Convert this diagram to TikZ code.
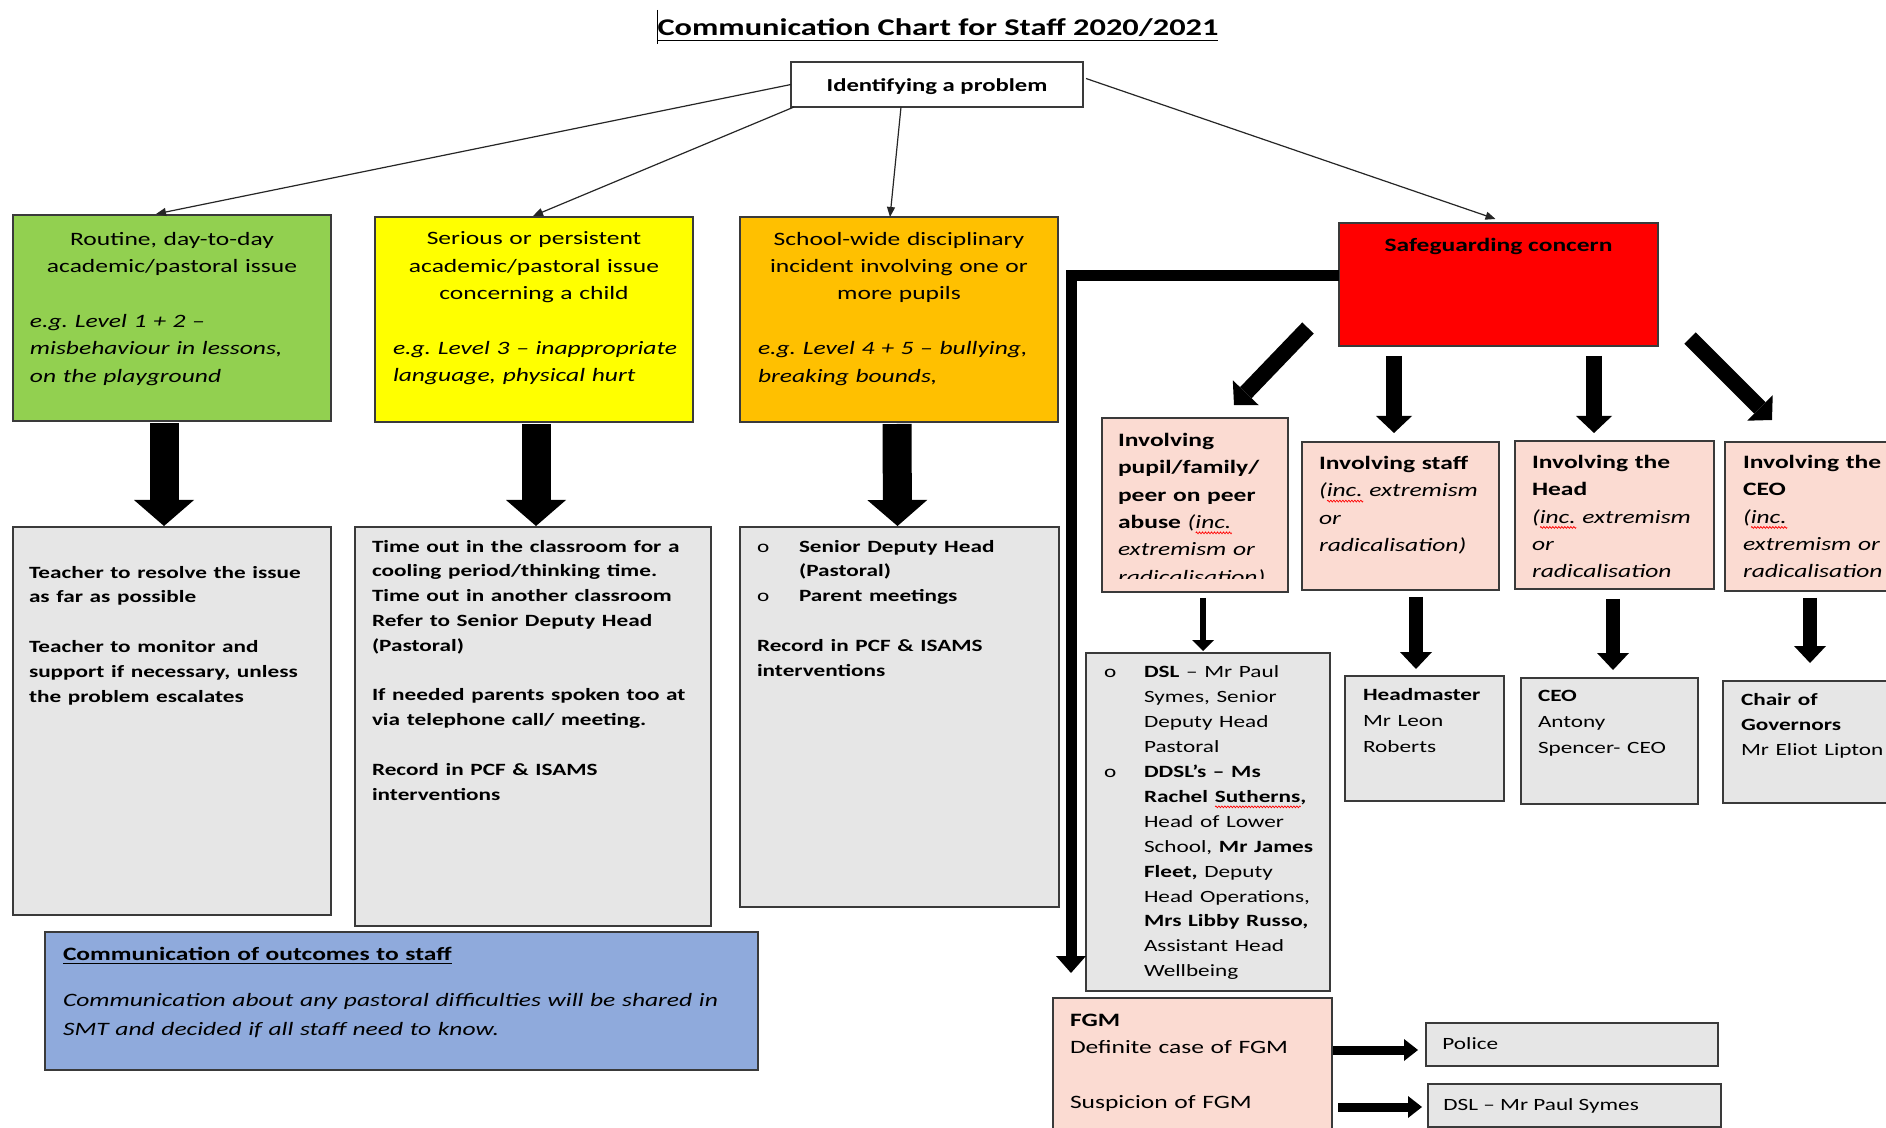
\documentclass[tikz,border=0pt]{standalone}
\usepackage{fontspec}
\setmainfont{Carlito}[FakeStretch=1.35]
\usetikzlibrary{arrows.meta,calc,fit,decorations.pathmorphing}
\setlength\parindent{0pt}
\frenchspacing
\definecolor{cgreen}{HTML}{92D050}
\definecolor{cyellow}{HTML}{FFFF00}
\definecolor{corange}{HTML}{FFC000}
\definecolor{cred}{HTML}{FF0000}
\definecolor{cgray}{HTML}{E6E6E6}
\definecolor{cpink}{HTML}{FBDBD2}
\definecolor{cblue}{HTML}{8FAADC}
\definecolor{cborder}{HTML}{3A3A3A}
\newcommand\fbig{\fontsize{9.45pt}{13.7pt}\selectfont}
\newcommand\fsmall{\fontsize{8.6pt}{12.4pt}\selectfont}
\newsavebox\wavebox
\newlength\wavewd
\newcommand\rwave[1]{\sbox\wavebox{#1}\setlength\wavewd{\wd\wavebox}\leavevmode\rlap{\tikz[x=1pt,y=1pt,baseline=0pt]\draw[red,line width=0.35pt,decorate,decoration={zigzag,amplitude=0.45pt,segment length=1.5pt}] (0,-2.2) -- (\wavewd,-2.2);}\usebox\wavebox}
\newsavebox\ulbox
\newcommand\myul[2][2pt]{\sbox\ulbox{#2}\leavevmode\rlap{\rule[-#1]{\wd\ulbox}{0.6pt}}\usebox\ulbox}
\begin{document}
\begin{tikzpicture}[x=0.5pt,y=-0.5pt,
  bx/.style={draw=cborder,line width=0.8pt,inner sep=0pt,outer sep=0pt},
  txt/.style={inner sep=0pt,outer sep=0pt,anchor=north west,text width=#1},
  txt/.default=170pt,
  thinarr/.style={draw=black!85,line width=0.6pt,-{Triangle[length=5pt,width=4pt]}},
  bigarr/.style={line width=14.5pt,-{Triangle[length=13pt,width=30pt,line width=0pt]}},
  midarr/.style={line width=8pt,-{Triangle[length=8.5pt,width=18pt,line width=0pt]}},
  smallarr/.style={line width=7pt,-{Triangle[length=8.5pt,width=16pt,line width=0pt]}},
  tinyarr/.style={line width=3pt,-{Triangle[length=5.5pt,width=11pt,line width=0pt]}},
  lconn/.style={line width=5.5pt,line join=miter,-{Triangle[length=8.5pt,width=15pt,line width=0pt]}},
  fgmarr/.style={line width=4.5pt,-{Triangle[length=7pt,width=11pt,line width=0pt]}}]
\useasboundingbox (0,0) rectangle (1886,1128);
\fill[white] (0,0) rectangle (1886,1128);
\clip (0,0) rectangle (1886,1128);

% title
\node (title) at (938,30) {\fontsize{12pt}{14pt}\selectfont\bfseries\myul[2.5pt]{Communication Chart for Staff 2020/2021}};
\draw[line width=0.5pt] ($(title.west)+(7,-20)$) -- ($(title.west)+(7,14)$);

% top
\node[bx,fill=white,fit={(791,62)(1083,107)}] (ident) {};
\node[font=\fontsize{9.15pt}{11pt}\selectfont\bfseries] (identT) at ($(ident.center)+(0,2)$) {Identifying a problem};

\node[bx,fill=cgreen,fit={(13,215)(331,421)}] (green) {};
\node[bx,fill=cyellow,fit={(375,217)(693,422)}] (yellow) {};
\node[bx,fill=corange,fit={(740,217)(1058,422)}] (orange) {};
\node[bx,fill=cred,fit={(1339,223)(1658,346)}] (red) {};

\node[txt=159pt] (greenT) at (13,232) {\fbig{\centering Routine, day-to-day\\academic/pastoral issue\par}\mbox{}\par{\raggedright\leftskip=8.5pt\itshape e.g. Level 1 + 2 –\newline misbehaviour in lessons,\newline on the playground\par}};
\node[txt=159pt] (yellowT) at (375,232) {\fbig{\centering Serious or persistent\\academic/pastoral issue\\concerning a child\par}\mbox{}\par{\raggedright\leftskip=9pt\itshape e.g. Level 3 – inappropriate\newline language, physical hurt\par}};
\node[txt=159pt] (orangeT) at (740,232) {\fbig{\centering School-wide disciplinary\\incident involving one or\\more pupils\par}\mbox{}\par{\raggedright\leftskip=9pt\itshape e.g. Level 4 + 5 – bullying,\newline breaking bounds,\par}};
\node[font=\fbig\bfseries] (redT) at ($(red.north)+(0,23)$) {Safeguarding concern};

% thin arrows
\draw[thinarr] (ident.west) -- ($(green.north)+(-16,-1)$);
\draw[thinarr] ($(ident.south west)+(3,0)$) -- ($(yellow.north)+(-1,-1)$);
\draw[thinarr] ($(ident.south west)+(110,0)$) -- ($(orange.north)+(-9,0)$);
\draw[thinarr] ($(ident.east)+(3,-6)$) -- ($(red.north)+(-3,-4)$);

% grey boxes
\node[bx,fill=cgray,fit={(13,527)(331,915)}] (gray1) {};
\node[bx,fill=cgray,fit={(355,527)(711,926)}] (gray2) {};
\node[bx,fill=cgray,fit={(740,527)(1059,907)}] (gray3) {};

\node[txt] (g1T) at (29,566) {\fsmall\bfseries\raggedright Teacher to resolve the issue\newline as far as possible\par\mbox{}\par Teacher to monitor and\newline support if necessary, unless\newline the problem escalates\par};
\node[txt] (g2T) at (372,540) {\fsmall\bfseries\raggedright Time out in the classroom for a\newline cooling period/thinking time.\newline Time out in another classroom\newline Refer to Senior Deputy Head\newline (Pastoral)\par\mbox{}\par If needed parents spoken too at\newline via telephone call/ meeting.\par\mbox{}\par Record in PCF \& ISAMS\newline interventions\par};
\node[txt] (g3T) at (757,540) {\fsmall\bfseries\raggedright
\hangindent=21pt\hangafter=1\makebox[21pt][l]{\mdseries o}Senior Deputy Head\newline (Pastoral)\par
\hangindent=21pt\hangafter=1\makebox[21pt][l]{\mdseries o}Parent meetings\par\mbox{}\par
Record in PCF \& ISAMS\newline interventions\par};

\draw[bigarr] ($(green.south)+(-8,2)$) -- ($(gray1.north)+(-8,-1)$);
\draw[bigarr] ($(yellow.south)+(2,2)$) -- ($(gray2.north)+(3,-1)$);
\draw[bigarr] ($(orange.south)+(-2,2)$) -- ($(gray3.north)+(-2,-1)$);

% blue box
\node[bx,fill=cblue,fit={(45,932)(758,1070)}] (blue) {};
\node[txt=340pt] (blueH) at (63,947) {\fbig\bfseries\myul{Communication of outcomes to staff}\par};
\node[txt=340pt] (blueB) at (63,993) {\fontsize{9.45pt}{14.5pt}\selectfont\itshape\raggedright Communication about any pastoral difficulties will be shared in\newline SMT and decided if all staff need to know.\par};

% pink boxes
\node[bx,fill=cpink,fit={(1102,418)(1288,592)}] (pupil) {};
\node[bx,fill=cpink,fit={(1302,442)(1499,590)}] (staff) {};
\node[bx,fill=cpink,fit={(1515,441)(1714,589)}] (headb) {};
\node[bx,fill=cpink,fit={(1725,442)(1900,591)}] (ceob) {};

\begin{scope}
\clip ($(pupil.north west)+(1,1)$) rectangle ($(pupil.south east)+(-1,-13)$);
\node[txt] (pupilT) at (1118,433) {\fbig\raggedright\textbf{Involving}\newline\textbf{pupil/family/}\newline\textbf{peer on peer}\newline\textbf{abuse} {\itshape(\rwave{inc.}\newline extremism or\newline radicalisation)}\par};
\end{scope}
\node[txt] (staffT) at (1319,456) {\fbig\raggedright\textbf{Involving staff}\newline{\itshape(\rwave{inc.} extremism\newline or\newline radicalisation)}\par};
\node[txt] (headT) at (1532,455) {\fbig\raggedright\textbf{Involving the}\newline\textbf{Head}\newline{\itshape(\rwave{inc.} extremism\newline or\newline radicalisation}\par};
\node[txt] (ceoT) at (1743,455) {\fbig\raggedright\textbf{Involving the}\newline\textbf{CEO}\newline{\itshape(\rwave{inc.}\newline extremism or\newline radicalisation}\par};

% safeguarding arrows
\draw[midarr] ($(red.south west)+(-31,-18)$) -- ($(pupil.north east)+(-54,-13)$);
\draw[midarr] ($(red.south west)+(55,10)$) -- ($(staff.north west)+(92,-9)$);
\draw[midarr] ($(red.south west)+(255,10)$) -- ($(headb.north west)+(79,-8)$);
\draw[midarr] ($(red.south east)+(32,-8)$) -- ($(ceob.north west)+(47,-22)$);

% lower grey
\node[bx,fill=cgray,fit={(1086,653)(1330,991)}] (dsl) {};
\node[bx,fill=cgray,fit={(1345,676)(1504,801)}] (hm) {};
\node[bx,fill=cgray,fit={(1521,678)(1698,804)}] (ceo2) {};
\node[bx,fill=cgray,fit={(1723,681)(1900,803)}] (chair) {};

\node[txt=120pt] (dslT) at (1104,666) {\fontsize{8.6pt}{12.45pt}\selectfont\raggedright
\hangindent=20pt\hangafter=1\makebox[20pt][l]{o}\textbf{DSL} – Mr Paul\newline Symes, Senior\newline Deputy Head\newline Pastoral\par
\hangindent=20pt\hangafter=1\makebox[20pt][l]{o}\textbf{DDSL’s – Ms}\newline\textbf{Rachel \rwave{Sutherns},}\newline Head of Lower\newline School, \textbf{Mr James}\newline\textbf{Fleet,} Deputy\newline Head Operations,\newline\textbf{Mrs Libby Russo,}\newline Assistant Head\newline Wellbeing\par};
\node[txt] (hmT) at (1363,688) {\fontsize{8.6pt}{13pt}\selectfont\raggedright\textbf{Headmaster}\newline Mr Leon\newline Roberts\par};
\node[txt] (ceo2T) at (1538,690) {\fontsize{8.6pt}{13pt}\selectfont\raggedright\textbf{CEO}\newline Antony\newline Spencer- CEO\par};
\node[txt] (chairT) at (1741,693) {\fontsize{8.6pt}{12.6pt}\selectfont\raggedright\textbf{Chair of}\newline\textbf{Governors}\newline Mr Eliot Lipton\par};

\draw[tinyarr] ($(pupil.south west)+(101,6)$) -- ($(dsl.north west)+(117,-2)$);
\draw[smallarr] ($(staff.south west)+(114,7)$) -- ($(hm.north west)+(71,-7)$);
\draw[smallarr] ($(headb.south west)+(98,10)$) -- ($(ceo2.north west)+(92,-8)$);
\draw[smallarr] ($(ceob.south west)+(85,7)$) -- ($(chair.north west)+(87,-18)$);

% L connector
\coordinate (lcorner) at (1071,276);
\coordinate (lend) at (1071,973);
\draw[lconn] ($(red.north west)+(0,53)$) -- (lcorner) -- (lend);

% FGM
\node[bx,fill=cpink,fit={(1053,998)(1332,1140)}] (fgm) {};
\node[txt] (fgmT) at (1070,1014) {\fbig\raggedright\textbf{FGM}\newline Definite case of FGM\par\mbox{}\par Suspicion of FGM\par};
\node[bx,fill=cgray,fit={(1426,1023)(1718,1066)}] (police) {};
\node[bx,fill=cgray,fit={(1428,1084)(1721,1127)}] (dslp) {};
\node[anchor=west,inner sep=0pt,font=\fsmall] (policeT) at (1442,1044) {Police};
\node[anchor=west,inner sep=0pt,font=\fsmall] (dslpT) at (1443,1106) {DSL – Mr Paul Symes};
\draw[fgmarr] ($(fgm.north east)+(1,52)$) -- ($(police.west)+(-8,5.5)$);
\draw[fgmarr] ($(fgm.north east)+(6,109)$) -- ($(dslp.west)+(-6,1.5)$);
\end{tikzpicture}
\end{document}
